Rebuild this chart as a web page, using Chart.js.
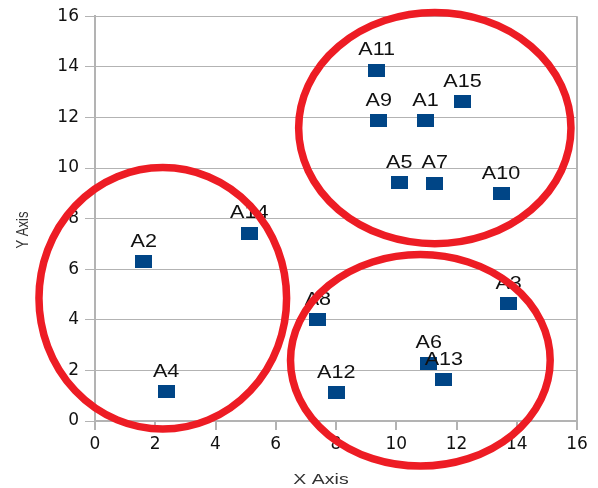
<!DOCTYPE html>
<html>
<head>
<meta charset="utf-8">
<script src="https://cdn.jsdelivr.net/npm/chart.js@4/dist/chart.umd.min.js"></script>
<style>
  html, body { margin: 0; padding: 0; background: #ffffff; }
  #wrap { width: 598px; height: 488px; }
</style>
</head>
<body>
<div id="wrap"><canvas id="c" width="598" height="488"></canvas></div>
<script>
// Point names and their coordinates
const names   = ['A1', 'A2', 'A3', 'A4', 'A5', 'A6', 'A7', 'A8', 'A9', 'A10', 'A11', 'A12', 'A13', 'A14', 'A15'];
const xValues = [10.97, 1.62, 13.73, 2.36, 10.10, 11.08, 11.28, 7.40, 9.42, 13.48, 9.35, 8.01, 11.58, 5.12, 12.20];
const yValues = [11.87, 6.29, 4.63, 1.16, 9.41, 2.28, 9.39, 4.00, 11.87, 8.98, 13.87, 1.11, 1.64, 7.43, 12.61];

// Axis ranges
const xMin = 0, xMax = 16, xStep = 2;
const yMin = 0, yMax = 16, yStep = 2;

// Cluster outlines (centre and radii in data units)
const clusterCx = [11.28, 2.25, 10.80];
const clusterCy = [11.58, 4.85, 2.40];
const clusterRx = [4.52, 4.11, 4.31];
const clusterRy = [4.57, 5.17, 4.18];

// Rectangular marker
const marker = document.createElement('canvas');
marker.width = 17; marker.height = 13;
const mctx = marker.getContext('2d');
mctx.fillStyle = '#004586';
mctx.fillRect(0, 0, 17, 13);

const GRID = '#b3b3b3';

const overlay = {
  id: 'overlay',
  afterDatasetsDraw(chart) {
    const { ctx, scales: { x, y } } = chart;
    ctx.save();
    // point labels
    ctx.font = '18px "Liberation Sans"';
    ctx.fillStyle = '#111111';
    ctx.textAlign = 'center';
    ctx.textBaseline = 'alphabetic';
    names.forEach((n, i) => {
      const px = x.getPixelForValue(xValues[i]);
      const py = y.getPixelForValue(yValues[i]);
      ctx.save();
      ctx.translate(px, py - 15);
      ctx.scale(1.2, 1);
      ctx.fillText(n, 0, 0);
      ctx.restore();
    });
    // cluster ellipses
    ctx.strokeStyle = '#ed1c24';
    ctx.lineWidth = 7.5;
    clusterCx.forEach((cx, i) => {
      const px = x.getPixelForValue(cx);
      const py = y.getPixelForValue(clusterCy[i]);
      const rxp = x.getPixelForValue(cx + clusterRx[i]) - px;
      const ryp = py - y.getPixelForValue(clusterCy[i] + clusterRy[i]);
      ctx.beginPath();
      ctx.ellipse(px, py, rxp, ryp, 0, 0, Math.PI * 2);
      ctx.stroke();
    });
    ctx.restore();
  },
  afterDraw(chart) {
    const { ctx } = chart;
    ctx.save();
    ctx.fillStyle = '#333333';
    ctx.textAlign = 'center';
    // x axis title
    ctx.font = '15px "Liberation Sans"';
    ctx.textBaseline = 'alphabetic';
    ctx.save();
    ctx.translate(321, 484);
    ctx.scale(1.3, 1);
    ctx.fillText('X Axis', 0, 0);
    ctx.restore();
    // y axis title
    ctx.font = '13px "Liberation Sans"';
    ctx.textBaseline = 'middle';
    ctx.save();
    ctx.translate(23, 230);
    ctx.rotate(-Math.PI / 2);
    ctx.scale(1, 1.3);
    ctx.fillText('Y Axis', 0, 0);
    ctx.restore();
    ctx.restore();
  }
};

new Chart(document.getElementById('c'), {
  type: 'scatter',
  data: {
    datasets: [{
      data: xValues.map((v, i) => ({ x: v, y: yValues[i] })),
      pointStyle: marker,
      pointRadius: 8,
      pointHoverRadius: 8,
      backgroundColor: '#004586',
      borderColor: '#004586'
    }]
  },
  options: {
    responsive: false,
    devicePixelRatio: 1,
    animation: false,
    layout: { padding: { top: 16, right: 21, left: 0, bottom: 0 } },
    plugins: {
      legend: { display: false },
      tooltip: { enabled: false },
      title: { display: false }
    },
    scales: {
      x: {
        type: 'linear',
        min: xMin, max: xMax,
        ticks: {
          stepSize: xStep,
          color: '#111111',
          padding: 4,
          font: { family: 'DejaVu Sans', size: 17 }
        },
        grid: {
          color: c => (c.tick && c.tick.value === xMax) ? GRID : 'rgba(0,0,0,0)',
          lineWidth: 2,
          tickColor: GRID,
          tickLength: 9,
          drawOnChartArea: true
        },
        border: { color: GRID, width: 2 },
        afterFit: s => { s.height = 67; }
      },
      y: {
        type: 'linear',
        min: yMin, max: yMax,
        ticks: {
          stepSize: yStep,
          color: '#111111',
          padding: 6,
          font: { family: 'DejaVu Sans', size: 17 }
        },
        grid: {
          color: GRID,
          lineWidth: 1,
          tickColor: GRID,
          tickLength: 10
        },
        border: { color: GRID, width: 2 },
        afterFit: s => { s.width = 95; }
      }
    }
  },
  plugins: [overlay]
});
</script>
</body>
</html>
